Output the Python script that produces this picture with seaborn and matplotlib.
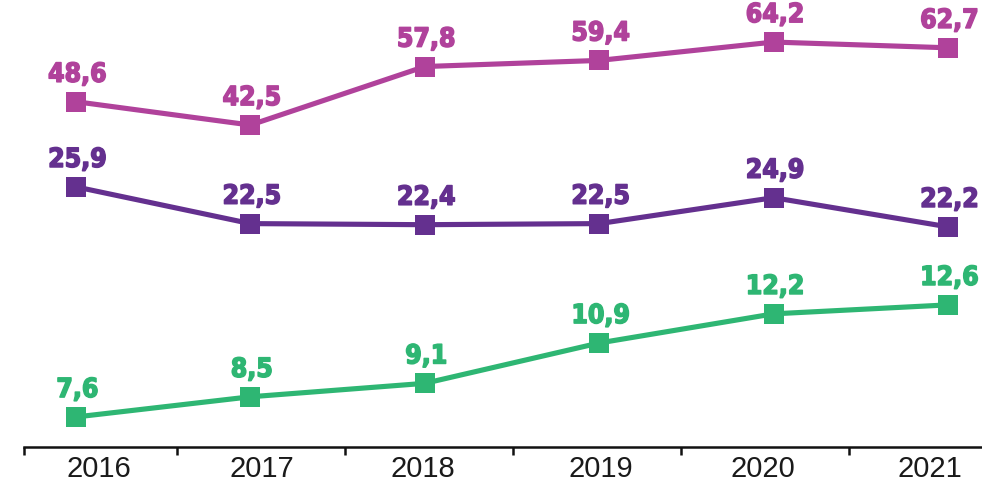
import matplotlib
matplotlib.use("Agg")
import matplotlib.pyplot as plt
import matplotlib.patheffects as pe
from matplotlib import font_manager as fm
import seaborn as sns
import pandas as pd

years = ["2016", "2017", "2018", "2019", "2020", "2021"]
series_top = [48.6, 42.5, 57.8, 59.4, 64.2, 62.7]
series_mid = [25.9, 22.5, 22.4, 22.5, 24.9, 22.2]
series_low = [7.6, 8.5, 9.1, 10.9, 12.2, 12.6]

colors = {"top": "#b0429b", "mid": "#64308f", "low": "#2eb673"}
# each series has its own vertical scale in the reference
ylims = {"top": (-41.7, 75.2), "mid": (1.82, 43.2), "low": (6.26, 26.2)}

sns.set_theme(style="white")
plt.rcParams["font.family"] = ["DejaVu Sans"]

label_font = fm.FontProperties(family="DejaVu Sans", weight="bold",
                               stretch="condensed", size=19)
print(fm.findfont(label_font))

fig = plt.figure(figsize=(9.82, 4.83), dpi=100)
ax = fig.add_axes([24 / 982, 36 / 483, 958 / 982, 447 / 483])
ax2 = ax.twinx()
ax3 = ax.twinx()

xpos = list(range(len(years)))
frames = {
    "top": pd.DataFrame({"x": xpos, "v": series_top}),
    "mid": pd.DataFrame({"x": xpos, "v": series_mid}),
    "low": pd.DataFrame({"x": xpos, "v": series_low}),
}

for key, a in (("top", ax), ("mid", ax2), ("low", ax3)):
    df = frames[key]
    sns.lineplot(data=df, x="x", y="v", ax=a, color=colors[key], linewidth=3.7,
                 marker="s", markersize=14.5, markeredgewidth=0, legend=False)
    a.set_ylim(*ylims[key])
    a.set_xlim(-0.298, 5.195)
    for xv, v in zip(df["x"], df["v"]):
        a.annotate(f"{v:.1f}".replace(".", ","), (xv, v), xytext=(1, 10),
                   textcoords="offset points", ha="center", va="bottom",
                   fontproperties=label_font, color=colors[key],
                   path_effects=[pe.withStroke(linewidth=1.1, foreground=colors[key])])
    a.set_ylabel("")
    a.set_xlabel("")
    a.set_yticks([])
    for s in ("left", "right", "top", "bottom"):
        a.spines[s].set_visible(False)

ax.patch.set_alpha(0)
ax.spines["bottom"].set_visible(True)
ax.spines["bottom"].set_color("#111111")
ax.spines["bottom"].set_linewidth(1.8)

label_pos = [0.133, 1.067, 1.991, 3.009, 3.940, 4.897]
boundaries = [-0.298, 0.579, 1.542, 2.506, 3.469, 4.432]
ax.set_xticks(label_pos)
ax.set_xticklabels(years, fontsize=21, color="#1a1a1a", family="Liberation Sans")
ax.tick_params(axis="x", which="major", length=0, pad=6)
ax.set_xticks(boundaries, minor=True)
ax.tick_params(axis="x", which="minor", length=6, width=1.8, color="#111111",
               direction="out", bottom=True)
for a in (ax2, ax3):
    a.tick_params(axis="x", which="both", length=0, labelbottom=False)

fig.savefig("out.png", dpi=100, facecolor="white")
